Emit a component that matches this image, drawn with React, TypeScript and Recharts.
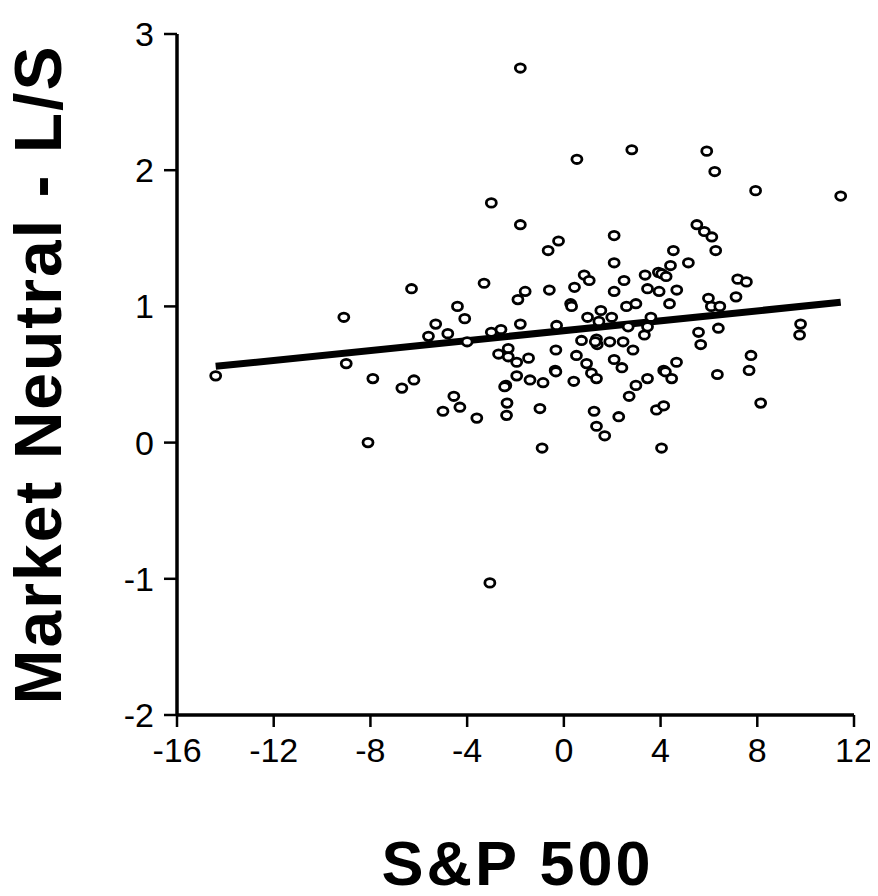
import React from "react"
import {
  ScatterChart,
  Scatter,
  XAxis,
  YAxis,
  ReferenceLine,
} from "recharts"

// ── Data ─────────────────────────────────────────────────────────────────────
const SP500 = [
  -14.4, -9.1, -9.0, -7.9, -8.1, -6.3, -6.2, -6.7, -5.3, -5.6, -4.8, -4.4, -4.1, -4.0,
  -4.55, -4.3, -5.0, -3.6, -3.3, -3.0, -3.0, -2.6, -3.06, -2.3, -2.7, -2.3, -2.4, -2.45,
  -2.35, -2.37, -1.95, -1.95, -1.9, -1.8, -1.8, -1.8, -1.6, -1.46, -1.4, -0.99, -0.86,
  -0.9, -0.65, -0.6, -0.22, -0.3, -0.33, -0.36, -0.33, 0.28, 0.32, 0.44, 0.54, 0.41,
  0.52, 0.73, 0.84, 1.05, 0.94, 0.98, 1.14, 1.25, 1.35, 1.35, 1.35, 1.38, 1.3, 1.45,
  1.53, 1.69, 1.9, 1.98, 2.08, 2.08, 2.08, 2.08, 2.27, 2.4, 2.45, 2.49, 2.59, 2.66, 2.7,
  2.81, 2.86, 2.98, 2.98, 3.33, 3.36, 3.46, 3.46, 3.46, 3.6, 3.83, 3.91, 3.94, 4.05,
  4.04, 4.13, 4.13, 4.2, 4.23, 4.37, 4.41, 4.46, 4.53, 4.66, 4.67, 5.15, 5.5, 5.57,
  5.66, 5.81, 5.91, 5.98, 6.12, 6.1, 6.24, 6.28, 6.35, 6.39, 6.45, 7.12, 7.19, 7.55,
  7.66, 7.74, 7.93, 8.14, 9.75, 9.79, 11.45,
]
const MARKET_NEUTRAL = [
  0.49, 0.92, 0.58, 0.47, 0.0, 1.13, 0.46, 0.4, 0.87, 0.78, 0.8, 1.0, 0.91, 0.74,
  0.34, 0.26, 0.23, 0.18, 1.17, 1.76, 0.81, 0.83, -1.03, 0.69, 0.65, 0.63, 0.42, 0.41,
  0.29, 0.2, 0.59, 0.49, 1.05, 0.87, 1.6, 2.75, 1.11, 0.62, 0.46, 0.25, 0.44,
  -0.04, 1.41, 1.12, 1.48, 0.86, 0.68, 0.53, 0.52, 1.02, 1.0, 1.14, 2.08, 0.45,
  0.64, 0.75, 1.23, 1.19, 0.58, 0.92, 0.51, 0.23, 0.12, 0.47, 0.76, 0.72, 0.74, 0.89,
  0.97, 0.05, 0.74, 0.92, 1.52, 1.32, 1.11, 0.61, 0.19, 0.55, 0.74, 1.19, 1.0, 0.85, 0.34,
  2.15, 0.68, 1.02, 0.42, 0.79, 1.23, 1.13, 0.85, 0.47, 0.92, 0.24, 1.25, 1.11, 1.24,
  -0.04, 0.27, 0.53, 0.52, 1.22, 1.02, 1.3, 0.47, 1.41, 0.59, 1.12, 1.32, 1.6, 0.81,
  0.72, 1.55, 2.14, 1.06, 1.51, 1.0, 1.99, 1.41, 0.5, 0.84, 1.0, 1.07, 1.2, 1.18,
  0.53, 0.64, 1.85, 0.29, 0.79, 0.87, 1.81,
]

// fitted line end points
const FIT_X = [-14.4, 11.45]
const FIT_Y = [0.56, 1.03]

const X_TICKS = [-16, -12, -8, -4, 0, 4, 8, 12]
const Y_TICKS = [-2, -1, 0, 1, 2, 3]

const points = SP500.map((x, i) => ({ x, y: MARKET_NEUTRAL[i] }))

const FONT = "'Liberation Sans', Arial, Helvetica, sans-serif"
const tickStyle = { fontSize: 34, fill: "#000", fontFamily: FONT }

function OpenDot(props: any) {
  const { cx, cy } = props
  if (cx == null || cy == null) return null
  return <ellipse cx={cx} cy={cy} rx={5} ry={4.2} fill="#fff" stroke="#000" strokeWidth={2.8} />
}

function YTitle(props: any) {
  const { viewBox } = props
  const x = 53
  const y = viewBox.y + viewBox.height / 2
  return (
    <text
      x={x}
      y={y}
      transform={`rotate(-90 ${x} ${y})`}
      textAnchor="middle"
      fontSize={66}
      letterSpacing={2}
      fontWeight="bold"
      fontFamily={FONT}
      fill="#000"
    >
      Market Neutral - L/S
    </text>
  )
}

function XTitle(props: any) {
  const { viewBox } = props
  return (
    <text
      x={viewBox.x + viewBox.width / 2 + 2}
      y={viewBox.y + 170}
      textAnchor="middle"
      fontSize={63}
      letterSpacing={3}
      fontWeight="bold"
      fontFamily={FONT}
      fill="#000"
    >
      S&amp;P 500
    </text>
  )
}

export default function App() {
  return (
    <div style={{ width: 870, height: 886, background: "#fff" }}>
      <ScatterChart width={870} height={886} margin={{ top: 26, right: 24, left: 0, bottom: 0 }}>
        <XAxis
          type="number"
          dataKey="x"
          domain={[-16, 12]}
          ticks={X_TICKS}
          allowDataOverflow
          height={179}
          tick={tickStyle}
          tickSize={12}
          tickMargin={11}
          axisLine={{ stroke: "#000", strokeWidth: 3.5 }}
          tickLine={{ stroke: "#000", strokeWidth: 2.5 }}
          label={{ content: XTitle }}
        />
        <XAxis
          xAxisId="top"
          orientation="top"
          type="number"
          domain={[-16, 12]}
          height={0}
          tick={false}
          tickLine={false}
          axisLine={{ stroke: "#000", strokeWidth: 3.5 }}
        />
        <YAxis
          type="number"
          dataKey="y"
          domain={[-2, 3]}
          ticks={Y_TICKS}
          allowDataOverflow
          width={169}
          tick={tickStyle}
          tickSize={13}
          tickMargin={10}
          axisLine={{ stroke: "#000", strokeWidth: 3.5 }}
          tickLine={{ stroke: "#000", strokeWidth: 2.5 }}
          label={{ content: YTitle }}
        />
        <YAxis
          yAxisId="right"
          orientation="right"
          type="number"
          domain={[-2, 3]}
          width={0}
          tick={false}
          tickLine={false}
          axisLine={{ stroke: "#000", strokeWidth: 3.5 }}
        />
        <ReferenceLine
          segment={[
            { x: FIT_X[0], y: FIT_Y[0] },
            { x: FIT_X[1], y: FIT_Y[1] },
          ]}
          stroke="#000"
          strokeWidth={7}
        />
        <Scatter data={points} shape={OpenDot} isAnimationActive={false} />
      </ScatterChart>
    </div>
  )
}
